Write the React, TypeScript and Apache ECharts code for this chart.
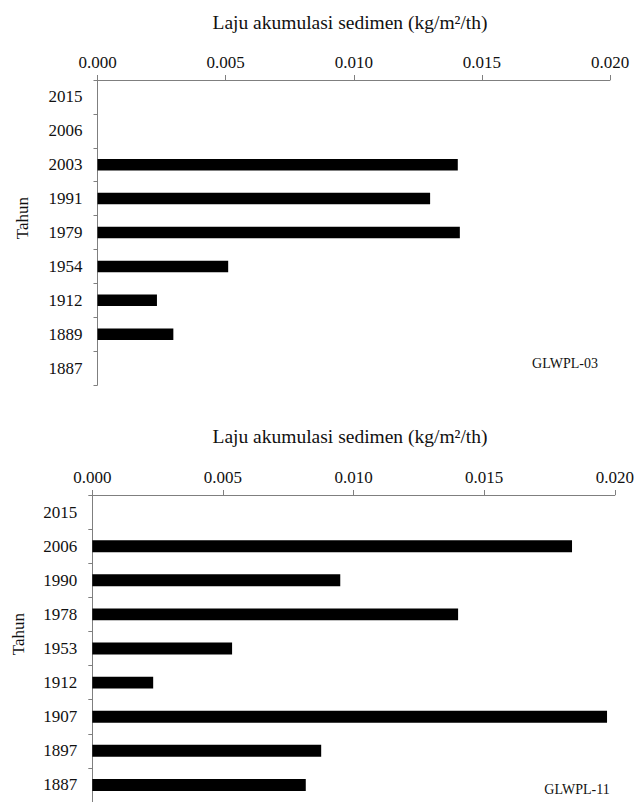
import React, { useEffect, useRef } from "react";
import * as echarts from "echarts";

const topYears = ["2015", "2006", "2003", "1991", "1979", "1954", "1912", "1889", "1887"];
const topValues = [0, 0, 0.01406, 0.01298, 0.01414, 0.0051, 0.00232, 0.00296, 0];

const bottomYears = ["2015", "2006", "1990", "1978", "1953", "1912", "1907", "1897", "1887"];
const bottomValues = [0, 0.01836, 0.00949, 0.014, 0.00535, 0.00233, 0.0197, 0.00876, 0.00817];

const xTitle = "Laju akumulasi sedimen (kg/m²/th)";
const yTitle = "Tahun";
const topTag = "GLWPL-03";
const bottomTag = "GLWPL-11";

const FONT = "Liberation Serif";
const AXIS_COLOR = "#7f7f7f";
const TEXT_COLOR = "#111";

export default function App() {
  const ref = useRef<HTMLDivElement>(null);
  useEffect(() => {
    if (!ref.current) return;
    const chart = echarts.init(ref.current, null, { renderer: "svg" });
    const xAxisBase = (gridIndex: number) => ({
      type: "value",
      gridIndex,
      position: "top",
      min: 0,
      max: 0.02,
      interval: 0.005,
      splitLine: { show: false },
      axisLine: { show: true, lineStyle: { color: AXIS_COLOR, width: 1 } },
      axisTick: { show: true, inside: false, length: 5, lineStyle: { color: AXIS_COLOR } },
      axisLabel: {
        color: TEXT_COLOR,
        fontFamily: FONT,
        fontSize: 17,
        margin: 9,
        formatter: (v: number) => v.toFixed(3),
      },
    });
    const yAxisBase = (gridIndex: number, data: string[]) => ({
      type: "category",
      gridIndex,
      inverse: true,
      data,
      axisLine: { show: true, lineStyle: { color: AXIS_COLOR, width: 1 } },
      axisTick: { show: true, inside: false, length: 4, lineStyle: { color: AXIS_COLOR } },
      axisLabel: { color: TEXT_COLOR, fontFamily: FONT, fontSize: 17, margin: 15 },
      splitLine: { show: false },
    });
    const textStyle = (size: number) => ({
      fill: TEXT_COLOR,
      fontFamily: FONT,
      fontSize: size,
      textAlign: "center",
      textVerticalAlign: "middle",
    });
    chart.setOption({
      animation: false,
      backgroundColor: "#fff",
      grid: [
        { left: 97.5, top: 80, width: 512.5, height: 305, containLabel: false },
        { left: 92.3, top: 495, width: 525, height: 313, containLabel: false },
      ],
      xAxis: [xAxisBase(0), xAxisBase(1)],
      yAxis: [yAxisBase(0, topYears), yAxisBase(1, bottomYears)],
      series: [
        {
          type: "bar",
          xAxisIndex: 0,
          yAxisIndex: 0,
          data: topValues,
          barWidth: "34%",
          itemStyle: { color: "#000" },
        },
        {
          type: "bar",
          xAxisIndex: 1,
          yAxisIndex: 1,
          data: bottomValues,
          barWidth: "35%",
          itemStyle: { color: "#000" },
        },
      ],
      graphic: [
        { type: "text", x: 350, y: 22, style: { text: xTitle, ...textStyle(19.5) } },
        { type: "text", x: 350, y: 436, style: { text: xTitle, ...textStyle(19.5) } },
        { type: "text", x: 22, y: 218, rotation: Math.PI / 2, style: { text: yTitle, ...textStyle(17) } },
        { type: "text", x: 18, y: 634, rotation: Math.PI / 2, style: { text: yTitle, ...textStyle(17) } },
        { type: "text", x: 565, y: 363, style: { text: topTag, ...textStyle(14) } },
        { type: "text", x: 577, y: 789, style: { text: bottomTag, ...textStyle(14) } },
      ],
    });
    return () => chart.dispose();
  }, []);
  return (
    <div
      ref={ref}
      style={{ position: "fixed", left: 0, top: 0, width: 637, height: 802, background: "#fff" }}
    />
  );
}
